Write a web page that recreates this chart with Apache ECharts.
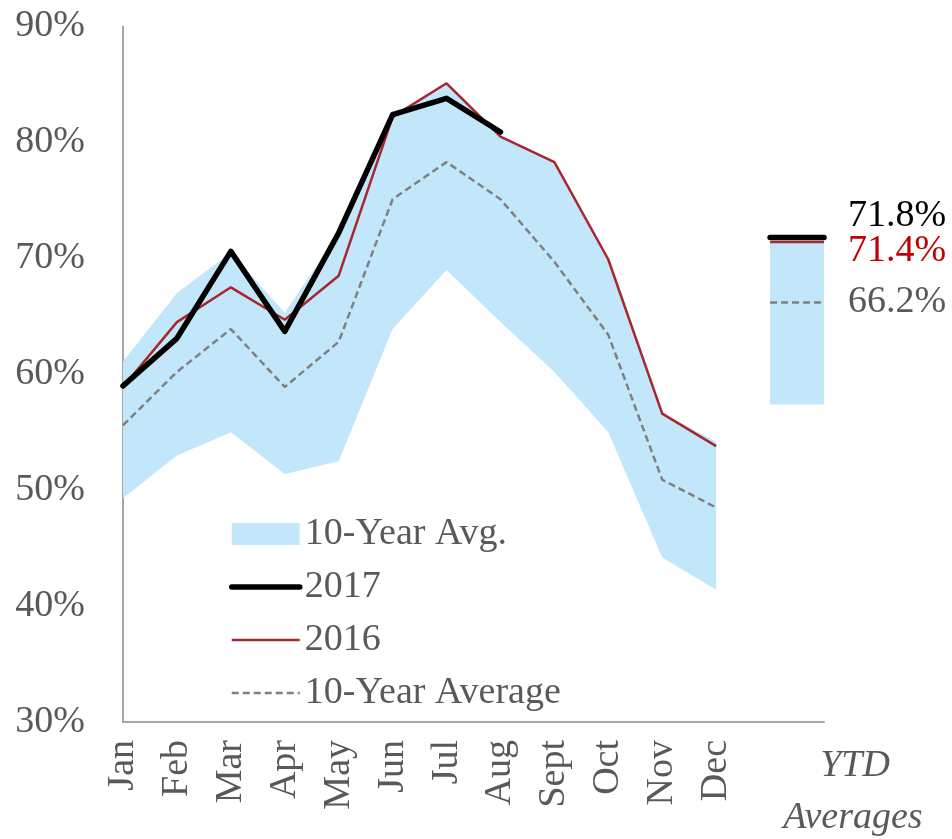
<!DOCTYPE html>
<html>
<head>
<meta charset="utf-8">
<script src="https://cdn.jsdelivr.net/npm/echarts@6/dist/echarts.min.js"></script>
<style>
  html, body { margin: 0; padding: 0; background: #fff; }
  #chart { width: 952px; height: 839px; }
</style>
</head>
<body>
<div id="chart"></div>
<script>
// categories: 12 months + two slots for the YTD column
const months = ['Jan', 'Feb', 'Mar', 'Apr', 'May', 'Jun', 'Jul', 'Aug', 'Sept', 'Oct', 'Nov', 'Dec', '', '']
const yTicks = [30, 40, 50, 60, 70, 80, 90]

// 10-year range (min / max) by month
const bandMax = [61.1, 67.0, 70.5, 65.3, 72.2, 82.4, 85.1, 80.5, 78.3, 69.9, 56.6, 54.2]
const bandMin = [49.3, 53.0, 55.0, 51.4, 52.5, 63.9, 69.0, 64.5, 60.2, 55.0, 44.2, 41.4]
const avg10 = [55.6, 60.2, 63.9, 58.9, 62.8, 75.1, 78.3, 75.1, 69.7, 63.4, 50.9, 48.5]
const y2017 = [59.0, 63.1, 70.6, 63.7, 72.2, 82.4, 83.8, 80.9]
const y2016 = [58.9, 64.5, 67.5, 64.7, 68.5, 82.2, 85.1, 80.5, 78.3, 69.9, 56.6, 53.8]

// YTD averages
const ytd2017 = 71.8
const ytd2016 = 71.4
const ytdAvg = 66.2
const ytdBandMax = 71.4
const ytdBandMin = 57.4

const BAND = '#C3E7FA'
const TXT = '#595959'
const FONT = 'Liberation Serif'

function monthsOnly(arr) {
  const out = arr.slice()
  while (out.length < months.length) out.push(null)
  return out
}
function ytdOnly(v) {
  const out = new Array(12).fill(null)
  out.push(v, v)
  return out
}
function ytdEndLabel(v, color, offY) {
  return {
    show: true, distance: 24, offset: [0, offY],
    formatter: v.toFixed(1) + '%', color: color,
    fontFamily: FONT, fontSize: 38
  }
}

const chart = echarts.init(document.getElementById('chart'))
chart.setOption({
  animation: false,
  textStyle: { fontFamily: FONT },
  grid: { left: 123, right: 128, top: 26.5, bottom: 117, containLabel: false },
  legend: {
    orient: 'vertical',
    left: 224,
    top: 509,
    itemWidth: 68,
    itemHeight: 22,
    itemGap: 13,
    textStyle: { color: TXT, fontFamily: FONT, fontSize: 38, lineHeight: 40 },
    data: [
      { name: '10-Year Avg.', icon: 'rect', itemStyle: { color: BAND } },
      { name: '2017', itemStyle: { opacity: 0 }, lineStyle: { width: 5.5, cap: 'round' } },
      { name: '2016', itemStyle: { opacity: 0 }, lineStyle: { width: 2.5 } },
      { name: '10-Year Average', itemStyle: { opacity: 0 }, lineStyle: { width: 2.5 } }
    ]
  },
  xAxis: {
    type: 'category',
    data: months,
    boundaryGap: false,
    axisLine: { lineStyle: { color: '#A6A6A6', width: 2 } },
    axisTick: { show: false },
    axisLabel: {
      interval: 0, rotate: 90, margin: 18,
      color: TXT, fontFamily: FONT, fontSize: 38
    },
    splitLine: { show: false }
  },
  yAxis: {
    type: 'value',
    min: yTicks[0],
    max: yTicks[yTicks.length - 1],
    interval: 10,
    axisLine: { show: true, lineStyle: { color: '#A6A6A6', width: 2 } },
    axisTick: { show: false },
    axisLabel: {
      margin: 38, formatter: '{value}%',
      color: TXT, fontFamily: FONT, fontSize: 38
    },
    splitLine: { show: false }
  },
  graphic: [
    { type: 'text', x: 855, y: 766,
      style: { text: 'YTD', font: 'italic 38px "Liberation Serif"', fill: TXT,
        textAlign: 'center', textVerticalAlign: 'middle' } },
    { type: 'text', x: 853, y: 818,
      style: { text: 'Averages', font: 'italic 38px "Liberation Serif"', fill: TXT,
        textAlign: 'center', textVerticalAlign: 'middle' } }
  ],
  series: [
    {
      name: 'bandLow', type: 'line', stack: 'band', symbol: 'none',
      lineStyle: { opacity: 0 }, data: monthsOnly(bandMin), silent: true
    },
    {
      name: '10-Year Avg.', type: 'line', stack: 'band', symbol: 'none',
      lineStyle: { opacity: 0 }, itemStyle: { color: BAND },
      areaStyle: { color: BAND, opacity: 1 },
      data: monthsOnly(bandMax.map((v, i) => +(v - bandMin[i]).toFixed(2)))
    },
    {
      name: 'ytdLow', type: 'line', stack: 'ytd', symbol: 'none',
      lineStyle: { opacity: 0 }, data: ytdOnly(ytdBandMin), silent: true
    },
    {
      name: 'ytdBand', type: 'line', stack: 'ytd', symbol: 'none',
      lineStyle: { opacity: 0 }, areaStyle: { color: BAND, opacity: 1 },
      data: ytdOnly(+(ytdBandMax - ytdBandMin).toFixed(2))
    },
    {
      name: '10-Year Average', type: 'line', symbol: 'none',
      lineStyle: { color: '#808080', width: 2.5, type: [7, 4] },
      itemStyle: { color: '#808080' },
      data: monthsOnly(avg10)
    },
    {
      name: '2016', type: 'line', symbol: 'none',
      lineStyle: { color: '#A8262E', width: 2.5 },
      itemStyle: { color: '#A8262E' },
      data: monthsOnly(y2016)
    },
    {
      name: '2017', type: 'line', symbol: 'none',
      lineStyle: { color: '#000000', width: 5.5, cap: 'round', join: 'round' },
      itemStyle: { color: '#000000' },
      data: monthsOnly(y2017)
    },
    {
      name: 'ytdAvg', type: 'line', symbol: 'none',
      lineStyle: { color: '#808080', width: 2.5, type: [7, 4] },
      endLabel: ytdEndLabel(ytdAvg, TXT, 0),
      data: ytdOnly(ytdAvg)
    },
    {
      name: 'ytd2016', type: 'line', symbol: 'none',
      lineStyle: { color: '#A8262E', width: 2.5 },
      endLabel: ytdEndLabel(ytd2016, '#C00000', 9),
      data: ytdOnly(ytd2016)
    },
    {
      name: 'ytd2017', type: 'line', symbol: 'none',
      lineStyle: { color: '#000000', width: 5.5, cap: 'round' },
      endLabel: ytdEndLabel(ytd2017, '#000000', -21),
      data: ytdOnly(ytd2017)
    }
  ]
})
</script>
</body>
</html>
